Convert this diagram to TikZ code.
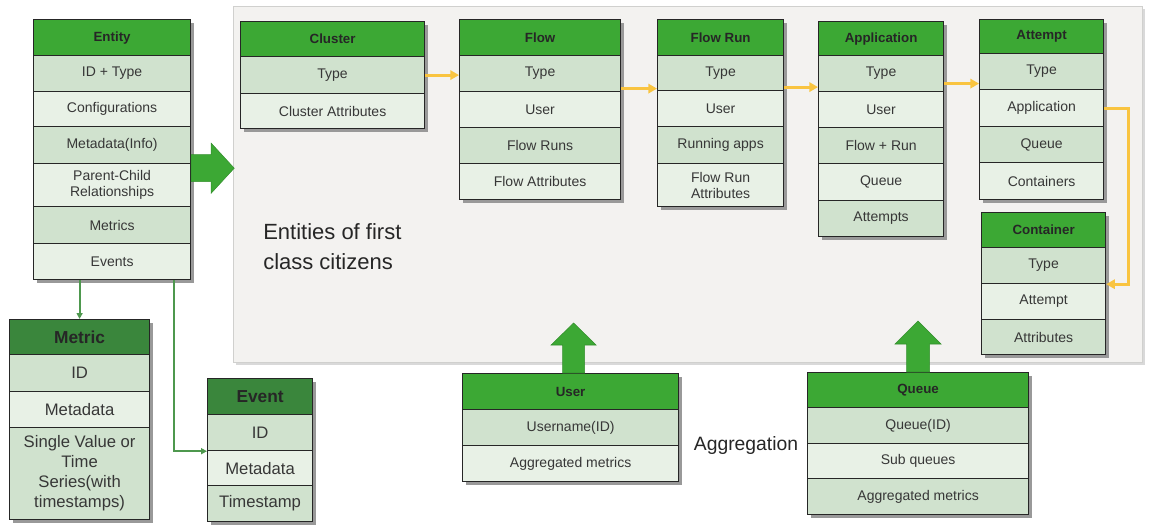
\documentclass[tikz,border=0pt]{standalone}
\usepackage{fontspec}
\setmainfont{Liberation Sans}
\usetikzlibrary{arrows.meta,calc,shadows}
\definecolor{hdr}{RGB}{60,168,52}
\definecolor{hdrdk}{RGB}{58,134,60}
\definecolor{rowA}{RGB}{208,226,206}
\definecolor{rowB}{RGB}{232,241,230}
\definecolor{panelc}{RGB}{243,242,240}
\definecolor{panelb}{RGB}{208,208,206}
\definecolor{yel}{RGB}{249,196,64}
\definecolor{gline}{RGB}{78,152,78}
\definecolor{txt}{RGB}{55,55,55}
\begin{document}
\begin{tikzpicture}[x=0.75pt,y=-0.75pt,
  wh/.style 2 args={minimum width=#1*0.75pt, minimum height=#2*0.75pt},
  cell/.style={draw=black!85, line width=0.9pt, anchor=north west, inner sep=1pt, align=center,
    text=txt, font=\fontsize{10.5}{12}\selectfont,
    drop shadow={shadow xshift=2.5pt, shadow yshift=-2.5pt, fill=black!40, opacity=1}},
  hd/.style={cell, fill=hdr, text=black!85, font=\bfseries\fontsize{10}{11}\selectfont},
  ra/.style={cell, fill=rowA},
  rb/.style={cell, fill=rowB},
  bigtxt/.style={font=\fontsize{12.5}{15}\selectfont},
  hd2/.style={cell, fill=hdrdk, text=black!85, font=\bfseries\fontsize{13}{15}\selectfont},
  panel/.style={draw=panelb, line width=0.8pt, fill=panelc, anchor=north west,
    drop shadow={shadow xshift=1.5pt, shadow yshift=-1.5pt, fill=black!15, opacity=1}},
  yarrow/.style={draw=yel, line width=2.2pt, -{Triangle[length=6.5pt,width=7pt]}},
  garrow/.style={draw=gline, line width=1.5pt, -{Triangle[length=4.5pt,width=4.5pt]}},
  blk/.style={fill=hdr, draw=hdr!85!black, line width=0.4pt},
  plain/.style={inner sep=0pt, text=black!85}
]
\path[use as bounding box] (0,0) rectangle (1162,527);

% background panel
\node[panel, wh={909}{356}] (panel) at (233,6) {};

% Entity
\node[hd, wh={157}{36}] (entity) at (33,19) {Entity};
\node[ra, wh={157}{36}] (enID) at (33,55) {ID + Type};
\node[rb, wh={157}{35}] (enConf) at (33,91) {Configurations};
\node[ra, wh={157}{37}] (enMeta) at (33,126) {Metadata(Info)};
\node[rb, wh={157}{43}] (enPC) at (33,163) {Parent-Child\\Relationships};
\node[ra, wh={157}{37}] (enMet) at (33,206) {Metrics};
\node[rb, wh={157}{36}] (enEv) at (33,243) {Events};

% Cluster
\node[hd, wh={184}{35}] (cluster) at (240,21) {Cluster};
\node[ra, wh={184}{37}] (clType) at (240,56) {Type};
\node[rb, wh={184}{35}] (clAttr) at (240,93) {Cluster Attributes};

% Flow
\node[hd, wh={161}{36}] (flow) at (459,19) {Flow};
\node[ra, wh={161}{36}] (flType) at (459,55) {Type};
\node[rb, wh={161}{36}] (flUser) at (459,91) {User};
\node[ra, wh={161}{36}] (flRuns) at (459,127) {Flow Runs};
\node[rb, wh={161}{36}] (flAttr) at (459,163) {Flow Attributes};

% Flow Run
\node[hd, wh={126}{36}] (flowrun) at (657,19) {Flow Run};
\node[ra, wh={126}{35}] (frType) at (657,55) {Type};
\node[rb, wh={126}{36}] (frUser) at (657,90) {User};
\node[ra, wh={126}{37}] (frApps) at (657,126) {Running apps};
\node[rb, wh={126}{43}] (frAttr) at (657,163) {Flow Run\\Attributes};

% Application
\node[hd, wh={125}{34}] (app) at (818,21) {Application};
\node[ra, wh={125}{36}] (apType) at (818,55) {Type};
\node[rb, wh={125}{36}] (apUser) at (818,91) {User};
\node[ra, wh={125}{36}] (apFR) at (818,127) {Flow + Run};
\node[rb, wh={125}{37}] (apQueue) at (818,163) {Queue};
\node[ra, wh={125}{36}] (apAtt) at (818,200) {Attempts};

% Attempt
\node[hd, wh={124}{34}] (attempt) at (979,19) {Attempt};
\node[ra, wh={124}{36}] (atType) at (979,53) {Type};
\node[rb, wh={124}{37}] (atApp) at (979,89) {Application};
\node[ra, wh={124}{36}] (atQueue) at (979,126) {Queue};
\node[rb, wh={124}{37}] (atCont) at (979,162) {Containers};

% Container
\node[hd, wh={124}{35}] (container) at (981,212) {Container};
\node[ra, wh={124}{36}] (ctType) at (981,247) {Type};
\node[rb, wh={124}{36}] (ctAtt) at (981,283) {Attempt};
\node[ra, wh={124}{35}] (ctAttr) at (981,319) {Attributes};

% Metric
\node[hd2, wh={140}{35}] (metric) at (9,319) {Metric};
\node[ra, bigtxt, wh={140}{37}] (mtID) at (9,354) {ID};
\node[rb, bigtxt, wh={140}{36}] (mtMeta) at (9,391) {Metadata};
\node[ra, bigtxt, wh={140}{92}] (mtVal) at (9,427) {Single Value or\\Time\\Series(with\\timestamps)};

% Event
\node[hd2, wh={105}{36}] (event) at (207,378) {Event};
\node[ra, bigtxt, wh={105}{36}] (evID) at (207,414) {ID};
\node[rb, bigtxt, wh={105}{35}] (evMeta) at (207,450) {Metadata};
\node[ra, bigtxt, wh={105}{36}] (evTS) at (207,485) {Timestamp};

% User
\node[hd, wh={216}{36}] (user) at (462,373) {User};
\node[ra, wh={216}{36}] (usName) at (462,409) {Username(ID)};
\node[rb, wh={216}{36}] (usAgg) at (462,445) {Aggregated metrics};

% Queue
\node[hd, wh={221}{35}] (queue) at (807,372) {Queue};
\node[ra, wh={221}{36}] (quID) at (807,407) {Queue(ID)};
\node[rb, wh={221}{35}] (quSub) at (807,443) {Sub queues};
\node[ra, wh={221}{36}] (quAgg) at (807,478) {Aggregated metrics};

% texts
\node[plain, anchor=west, align=left, font=\fontsize{16.5}{22.5}\selectfont] (ftxt) at (263,247) {Entities of first\\class citizens};
\node[plain, font=\fontsize{14.5}{16}\selectfont] (aggr) at (746,445) {Aggregation};

% yellow arrows
\draw[yarrow] (clType.east) -- (clType.east -| flow.west);
\draw[yarrow] ($(flType.east)+(0,15)$) -- ($(flType.east -| flowrun.west)+(0,15)$);
\draw[yarrow] ($(frType.east)+(0,14)$) -- ($(frType.east -| app.west)+(0,14)$);
\draw[yarrow] ($(apType.east)+(0,10)$) -- ($(apType.east -| attempt.west)+(0,10)$);
\coordinate (turn) at ($(atApp.east)+(24,0)$);
\draw[yarrow] (atApp.east) -- (turn) |- (ctType.south east);

% green thin arrows
\draw[garrow] (enEv.south -| metric.north) -- (metric.north);
\coordinate (ev0) at ($(enEv.south west)+(141,0)$);
\draw[garrow] (ev0) |- (evID.south west);

% block arrows
\coordinate (ba) at ($(enMeta.south east)+(0,4)$);
\fill[blk] ($(ba)+(0,-13.5)$) -- ($(ba)+(20,-13.5)$) -- ($(ba)+(20,-25)$) -- ($(ba)+(43,0)$)
  -- ($(ba)+(20,25)$) -- ($(ba)+(20,13.5)$) -- ($(ba)+(0,13.5)$) -- cycle;
\coordinate (ua) at ($(user.north)+(3,0)$);
\fill[blk] ($(ua)+(-11,0)$) -- ($(ua)+(-11,-28)$) -- ($(ua)+(-22.5,-28)$) -- ($(ua)+(0,-50)$)
  -- ($(ua)+(22.5,-28)$) -- ($(ua)+(11,-28)$) -- ($(ua)+(11,0)$) -- cycle;
\coordinate (qa) at (queue.north);
\fill[blk] ($(qa)+(-11.5,0)$) -- ($(qa)+(-11.5,-28)$) -- ($(qa)+(-23,-28)$) -- ($(qa)+(0,-51)$)
  -- ($(qa)+(23,-28)$) -- ($(qa)+(11.5,-28)$) -- ($(qa)+(11.5,0)$) -- cycle;
\end{tikzpicture}
\end{document}
